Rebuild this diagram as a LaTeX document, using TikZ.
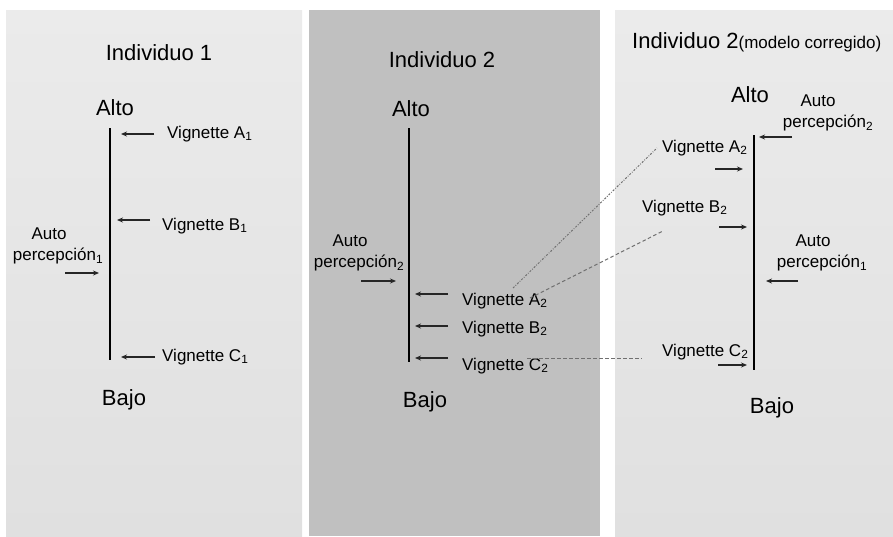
\documentclass[tikz,border=0pt]{standalone}
\usepackage{fontspec}
\setmainfont{Liberation Sans}
\usetikzlibrary{arrows.meta}
\usetikzlibrary{positioning}
\definecolor{paneTop}{HTML}{EBEBEB}
\definecolor{paneBot}{HTML}{E0E0E0}
\definecolor{paneDark}{HTML}{C0C0C0}
\definecolor{linkGray}{HTML}{707070}

\begin{document}
\begin{tikzpicture}[x=1pt,y=-1pt,>={Stealth[length=6pt,width=5pt]},
    big/.style={inner sep=0pt,font=\fontsize{22}{26}\selectfont},
    lbl/.style={inner sep=0pt,font=\fontsize{17}{20}\selectfont},
    axis/.style={line width=2.8pt},
    ptr/.style={->,line width=1.1pt,black!85},
    link/.style={linkGray,line width=1pt}]

  \useasboundingbox (0,0) rectangle (893,536);
  \fill[white] (0,0) rectangle (893,536);
  \shade[top color=paneTop,bottom color=paneBot] (6,10) rectangle (302,536);
  \fill[paneDark] (309,10) rectangle (600,536);
  \shade[top color=paneTop,bottom color=paneBot] (615,10) rectangle (893,536);

  % Individuo 1
  \node[big] (t1) at (159,53) {Individuo 1};
  \node[big] (alto1) at (115,108) {Alto};
  \node[big] (bajo1) at (124,400) {Bajo};
  \coordinate (top1) at (110,128);
  \coordinate (bot1) at (110,360);
  \draw[axis] (top1) -- (bot1);
  \node[lbl,anchor=west] (vA1) at (167,134) {Vignette A\textsubscript{1}};
  \node[lbl,anchor=west] (vB1) at (162,226) {Vignette B\textsubscript{1}};
  \node[lbl,anchor=west] (vC1) at (162,357) {Vignette C\textsubscript{1}};
  \node[lbl] (per1) at (58,256) {percepción\textsubscript{1}};
  \node[lbl] (auto1) [above=8pt of per1,xshift=-9pt] {Auto};
  \coordinate (sA1) at (154,134); \coordinate (eA1) at (121,134);
  \coordinate (sB1) at (150,220); \coordinate (eB1) at (117,220);
  \coordinate (sC1) at (155,357); \coordinate (eC1) at (121,357);
  \coordinate (sP1) at (65,273);  \coordinate (eP1) at (99,273);
  \draw[ptr] (sA1) -- (eA1);
  \draw[ptr] (sB1) -- (eB1);
  \draw[ptr] (sC1) -- (eC1);
  \draw[ptr] (sP1) -- (eP1);

  % Individuo 2
  \node[big] (t2) at (442,60) {Individuo 2};
  \node[big] (alto2) at (411,109) {Alto};
  \node[big] (bajo2) at (425,402) {Bajo};
  \coordinate (top2) at (409,128);
  \coordinate (bot2) at (409,362);
  \draw[axis] (top2) -- (bot2);
  \node[lbl,anchor=west] (vA2) at (462,301) {Vignette A\textsubscript{2}};
  \node[lbl,anchor=west] (vB2) at (462,329) {Vignette B\textsubscript{2}};
  \node[lbl,anchor=west] (vC2) at (462,366) {Vignette C\textsubscript{2}};
  \node[lbl] (per2) at (359,263) {percepción\textsubscript{2}};
  \node[lbl] (auto2) [above=8pt of per2,xshift=-9pt] {Auto};
  \coordinate (sA2) at (448,294); \coordinate (eA2) at (415,294);
  \coordinate (sB2) at (448,326); \coordinate (eB2) at (415,326);
  \coordinate (sC2) at (448,358); \coordinate (eC2) at (415,358);
  \coordinate (sP2) at (361,281); \coordinate (eP2) at (396,281);
  \draw[ptr] (sA2) -- (eA2);
  \draw[ptr] (sB2) -- (eB2);
  \draw[ptr] (sC2) -- (eC2);
  \draw[ptr] (sP2) -- (eP2);

  % Individuo 2 (modelo corregido)
  \node[big,anchor=base west] (t3) at (632,48)
    {Individuo 2{\fontsize{17}{20}\selectfont(modelo corregido)}};
  \node[big] (alto3) at (750,95) {Alto};
  \node[big] (bajo3) at (772,408) {Bajo};
  \coordinate (top3) at (754,135);
  \coordinate (bot3) at (754,370);
  \draw[axis] (top3) -- (bot3);
  \node[lbl,anchor=west] (wA2) at (662,148) {Vignette A\textsubscript{2}};
  \node[lbl,anchor=west] (wB2) at (642,208) {Vignette B\textsubscript{2}};
  \node[lbl,anchor=west] (wC2) at (662,352) {Vignette C\textsubscript{2}};
  \node[lbl] (per3) at (828,123) {percepción\textsubscript{2}};
  \node[lbl] (auto3) [above=8pt of per3,xshift=-10pt] {Auto};
  \node[lbl] (per4) at (822,263) {percepción\textsubscript{1}};
  \node[lbl] (auto4) [above=8pt of per4,xshift=-9pt] {Auto};
  \coordinate (sP3) at (792,137); \coordinate (eP3) at (759,137);
  \coordinate (sA3) at (715,169); \coordinate (eA3) at (743,169);
  \coordinate (sB3) at (719,227); \coordinate (eB3) at (747,227);
  \coordinate (sP4) at (798,281); \coordinate (eP4) at (766,281);
  \coordinate (sC3) at (718,365); \coordinate (eC3) at (747,365);
  \draw[ptr] (sP3) -- (eP3);
  \draw[ptr] (sA3) -- (eA3);
  \draw[ptr] (sB3) -- (eB3);
  \draw[ptr] (sP4) -- (eP4);
  \draw[ptr] (sC3) -- (eC3);

  % correspondencias
  \coordinate (dA1) at (513,288); \coordinate (dA2) at (657,148);
  \coordinate (dB1) at (530,298); \coordinate (dB2) at (663,231);
  \coordinate (dC1) at (527,358); \coordinate (dC2) at (642,358);
  \draw[link,dash pattern=on 2pt off 1.5pt on 0.8pt off 1.5pt] (dA1) -- (dA2);
  \draw[link,dash pattern=on 3.5pt off 2.5pt] (dB1) -- (dB2);
  \draw[link,dash pattern=on 3.5pt off 2.5pt] (dC1) -- (dC2);
\end{tikzpicture}
\end{document}
